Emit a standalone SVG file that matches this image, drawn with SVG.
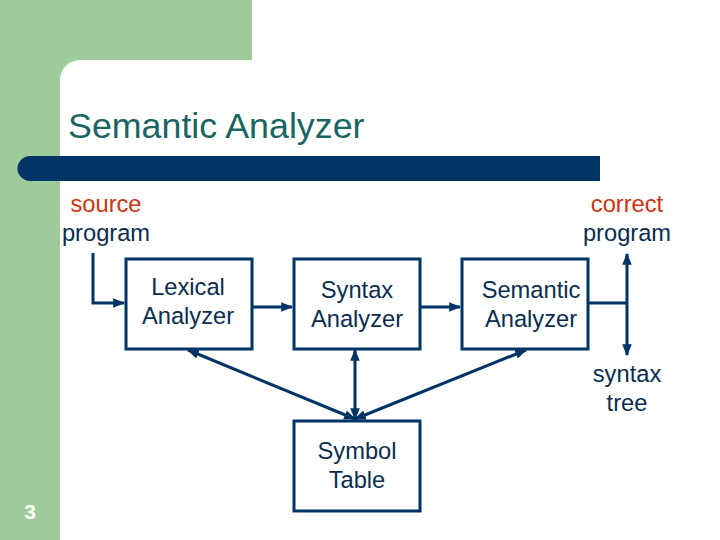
<svg xmlns="http://www.w3.org/2000/svg" width="720" height="540" viewBox="0 0 720 540">
<defs>
<style>
.box{fill:#fff;stroke:#003366;stroke-width:3}
.t{font-family:"Liberation Sans",Arial,sans-serif;font-size:23.7px;fill:#0a2d50;text-anchor:middle}
.o{fill:#cc3311}
.ln{stroke:#003366;stroke-width:3;fill:none}
</style>
<marker id="ah" viewBox="0 0 10 10" refX="9" refY="5" markerWidth="4" markerHeight="4" orient="auto-start-reverse" markerUnits="strokeWidth">
<path d="M0,1 L10,5 L0,9 z" fill="#003366"/>
</marker>
</defs>
<rect x="0" y="0" width="720" height="540" fill="#fff"/>
<path d="M0,0 H252 V60 H80 A20,20 0 0 0 60,80 V540 H0 Z" fill="#9dcb9b"/>
<path d="M30,156 H600 V181 H30 A12.5,12.5 0 0 1 30,156 Z" fill="#003366"/>
<text x="68" y="138" font-family="Liberation Sans,Arial,sans-serif" font-size="35.8" fill="#1a6464">Semantic Analyzer</text>
<text x="30" y="519" font-family="Liberation Sans,Arial,sans-serif" font-size="21" font-weight="bold" fill="#fff" text-anchor="middle">3</text>
<g id="source-label"><text class="t o" x="106" y="212">source</text><text class="t" x="106" y="241">program</text></g>
<g id="correct-label"><text class="t o" x="627" y="212">correct</text><text class="t" x="627" y="241">program</text></g>
<g id="syntax-tree-label"><text class="t" x="627" y="382">syntax</text><text class="t" x="627" y="411">tree</text></g>
<g id="lexical"><rect class="box" x="126" y="259" width="126" height="90"/><text class="t" x="188" y="295">Lexical</text><text class="t" x="188" y="324">Analyzer</text></g>
<g id="syntax"><rect class="box" x="294" y="259" width="126" height="90"/><text class="t" x="357" y="298">Syntax</text><text class="t" x="357" y="327">Analyzer</text></g>
<g id="semantic"><rect class="box" x="462" y="259" width="126" height="90"/><text class="t" x="531" y="298">Semantic</text><text class="t" x="531" y="327">Analyzer</text></g>
<g id="symbol"><rect class="box" x="294" y="421" width="126" height="90"/><text class="t" x="357" y="459">Symbol</text><text class="t" x="357" y="488">Table</text></g>
<g id="connectors">
<path class="ln" d="M93,253 V303 H124" marker-end="url(#ah)"/>
<path class="ln" d="M252,307 H292" marker-end="url(#ah)"/>
<path class="ln" d="M420,307 H460" marker-end="url(#ah)"/>
<path class="ln" d="M588,303 H627"/>
<path class="ln" d="M627,254 V355" marker-start="url(#ah)" marker-end="url(#ah)"/>
<path class="ln" d="M355,419 L188,350" marker-start="url(#ah)" marker-end="url(#ah)"/>
<path class="ln" d="M355,419 V350" marker-start="url(#ah)" marker-end="url(#ah)"/>
<path class="ln" d="M355,419 L526,350" marker-start="url(#ah)" marker-end="url(#ah)"/>
</g>
</svg>
